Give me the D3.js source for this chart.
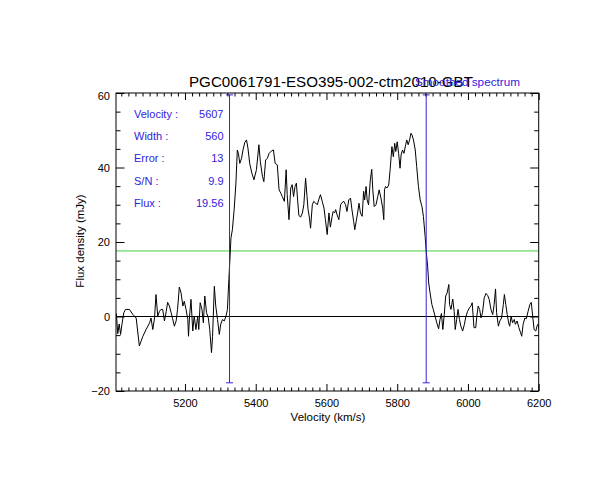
<!DOCTYPE html>
<html>
<head>
<meta charset="utf-8">
<script src="https://cdn.jsdelivr.net/npm/d3@7"></script>
<style>
  body { margin: 0; background: #fff; }
  text { font-family: "Liberation Sans", Arial, sans-serif; }
</style>
</head>
<body>
<script>
// Spectrum: velocity (km/s) and flux density (mJy).
var velocity = [
  5006, 5010, 5014, 5018, 5022, 5027, 5032, 5043, 5053, 5062, 5071, 5081, 5090, 5100,
  5104, 5109, 5114, 5118, 5123, 5128, 5132, 5137, 5142, 5147, 5151, 5156, 5161, 5165,
  5170, 5175, 5179, 5184, 5189, 5194, 5198, 5203, 5208, 5210, 5213, 5217, 5222, 5226,
  5231, 5236, 5239, 5243, 5248, 5252, 5256, 5261, 5266, 5270, 5275, 5278, 5283, 5287,
  5292, 5297, 5301, 5306, 5311, 5316, 5320, 5324, 5327, 5330, 5334, 5339, 5344, 5348,
  5351, 5355, 5360, 5364, 5369, 5374, 5378, 5383, 5389, 5395, 5402, 5409, 5413, 5419,
  5423, 5428, 5433, 5438, 5445, 5450, 5455, 5461, 5466, 5471, 5475, 5481, 5486, 5489,
  5494, 5499, 5503, 5507, 5511, 5515, 5518, 5522, 5527, 5532, 5536, 5541, 5545, 5548,
  5552, 5555, 5560, 5564, 5569, 5574, 5578, 5583, 5588, 5593, 5597, 5602, 5607, 5611,
  5616, 5619, 5623, 5626, 5630, 5635, 5640, 5644, 5649, 5654, 5658, 5663, 5668, 5672,
  5677, 5680, 5684, 5688, 5692, 5696, 5701, 5705, 5708, 5712, 5715, 5719, 5724, 5728,
  5731, 5735, 5740, 5745, 5749, 5754, 5759, 5762, 5764, 5767, 5771, 5776, 5780, 5785,
  5789, 5793, 5796, 5800, 5804, 5808, 5811, 5815, 5819, 5824, 5827, 5831, 5835, 5839,
  5842, 5846, 5851, 5855, 5860, 5865, 5870, 5874, 5879, 5882, 5886, 5889, 5893, 5898,
  5902, 5907, 5912, 5917, 5921, 5925, 5929, 5933, 5937, 5941, 5946, 5948, 5952, 5957,
  5961, 5964, 5968, 5972, 5976, 5980, 5985, 5990, 5994, 5999, 6004, 6009, 6012, 6017,
  6022, 6025, 6029, 6033, 6037, 6041, 6046, 6051, 6056, 6060, 6065, 6070, 6074, 6078,
  6081, 6086, 6090, 6095, 6100, 6103, 6107, 6111, 6115, 6118, 6122, 6126, 6131, 6134,
  6139, 6144, 6149, 6152, 6156, 6161, 6165, 6170, 6175, 6179, 6183, 6187, 6192, 6195,
  6198, 6201
];
var flux = [
   0.8, -4.6, -2.0, -4.8, -2.0,  1.0,  1.9,  1.9,  0.5, -0.4, -7.9, -5.3, -3.5, -1.7,
  -0.4, -3.5, -0.4,  5.9,  0.1,  1.4,  1.9,  1.9, -1.2,  1.4,  3.8,  2.8,  1.0, -0.6,
  -2.6, -1.2,  1.9,  7.9,  6.3,  2.8,  4.1,  1.9, -0.8, -5.3,  0.1,  4.6, -3.9,  0.1,
  -3.5,  0.1, -3.5,  3.7,  1.9, -1.7,  5.5,  1.0, -0.4, -3.5, -9.7, -5.3,  8.1,  2.8,
  -0.8, -4.8, -2.1, -0.8, -1.2,  0.1,  1.9,  9.9, 15.3, 21.1, 23.3, 28.7, 35.8, 44.7,
  43.8, 41.1, 42.5, 44.7, 46.7, 47.4, 45.2, 41.1, 38.5, 36.7, 39.4, 46.1, 41.6, 37.6,
  36.2, 42.0, 42.5, 43.8, 44.5, 44.7, 41.1, 40.7, 34.0, 33.1, 32.2, 30.9, 39.4, 32.7,
  26.0, 34.5, 35.4, 32.2, 34.9, 35.8, 31.8, 27.1, 26.7, 27.8, 30.0, 37.1, 32.2, 28.7,
  26.4, 23.7, 30.0, 30.9, 30.5, 30.0, 31.3, 32.7, 30.9, 29.1, 26.0, 22.0, 27.8, 24.0,
  26.9, 28.2, 27.8, 28.7, 27.3, 26.0, 30.0, 30.6, 30.9, 30.0, 28.2, 31.3, 31.8, 28.7,
  25.5, 23.3, 25.5, 27.8, 30.4, 27.8, 26.9, 33.6, 31.3, 34.9, 31.3, 30.0, 36.7, 39.5,
  34.0, 29.5, 30.0, 32.2, 34.0, 31.8, 29.1, 26.0, 34.0, 34.9, 34.5, 35.3, 39.4, 45.6,
  42.9, 46.5, 44.3, 46.9, 43.8, 39.8, 43.4, 44.7, 43.8, 46.1, 47.4, 46.1, 47.4, 49.2,
  48.7, 47.4, 44.7, 40.3, 34.9, 31.3, 29.5, 26.9, 21.5, 17.5, 13.5,  9.0,  6.3,  3.2,
   1.9,  0.1, -1.7, -3.3, -0.8,  0.8, -3.5,  0.5,  5.5,  6.3,  8.6,  3.2,  1.9,  4.7,
   1.4, -3.5, -0.8,  1.9, -0.8, -2.6, -3.9, -2.1, -0.1,  1.4,  2.3,  2.9,  3.7, -3.0,
  -3.0,  0.1,  2.8,  1.9, -0.4,  1.0,  5.0,  6.2,  5.6,  4.6,  1.9,  0.5,  3.2,  7.4,
   1.0, -2.6, -1.2, -0.4,  3.2,  5.9,  3.2,  0.5, -1.7, -2.6,  0.1, -1.7, -0.8, -2.1,
  -1.2, -3.0, -4.4, -5.3, -2.1, -0.4, -0.6,  1.4,  3.2,  3.8,  0.1, -3.5, -3.9, -2.6,
  -2.1, -3.5
];

var titleText = "PGC0061791-ESO395-002-ctm2010-GBT";
var xLabel = "Velocity (km/s)";
var yLabel = "Flux density (mJy)";

// Fit results shown at the top left.
var infoLabels = ["Velocity :", "Width :", "Error :", "S/N :", "Flux :"];
var infoValues = ["5607", "560", "13", "9.9", "19.56"];

// Line edges (vertical markers), the green level and the marker extent.
var edgeVelocities = [5326, 5882];
var markerTop = 59.5, markerBottom = -17.8;
var levelFlux = 17.6;

var xTicks = [5200, 5400, 5600, 5800, 6000, 6200];
var yTicks = [-20, 0, 20, 40, 60];
var xDomain = [5005, 6200];
var yDomain = [-20, 60];

var blue = "#3322dd";
var green = "#44d044";

var W = 612, H = 500;
var plotLeft = 116, plotRight = 538.7, plotTop = 93, plotBottom = 391;

var svg = d3.select("body").append("svg")
    .attr("width", W)
    .attr("height", H);

svg.append("rect").attr("width", W).attr("height", H).attr("fill", "#fff");

var x = d3.scaleLinear().domain(xDomain).range([plotLeft, plotRight]);
var y = d3.scaleLinear().domain(yDomain).range([plotBottom, plotTop]);

svg.append("clipPath").attr("id", "plot")
  .append("rect")
    .attr("x", plotLeft).attr("y", plotTop)
    .attr("width", plotRight - plotLeft).attr("height", plotBottom - plotTop);

var plot = svg.append("g").attr("clip-path", "url(#plot)");

// Zero line and the green level line.
plot.append("line")
    .attr("x1", plotLeft).attr("x2", plotRight)
    .attr("y1", y(0)).attr("y2", y(0))
    .attr("stroke", "#000").attr("stroke-width", 1);

plot.append("line")
    .attr("x1", plotLeft).attr("x2", plotRight)
    .attr("y1", y(levelFlux)).attr("y2", y(levelFlux))
    .attr("stroke", green).attr("stroke-width", 1);

// The spectrum.
var line = d3.line()
    .x(function(d, i) { return x(velocity[i]); })
    .y(function(d) { return y(d); });

plot.append("path")
    .datum(flux)
    .attr("d", line)
    .attr("fill", "none")
    .attr("stroke", "#000")
    .attr("stroke-width", 1);

// Vertical blue markers with small crosses at each end.
var markers = svg.append("g").attr("stroke", blue).attr("stroke-width", 1);
edgeVelocities.forEach(function(v) {
    var xv = x(v);
    markers.append("line")
        .attr("x1", xv).attr("x2", xv)
        .attr("y1", y(markerTop)).attr("y2", y(markerBottom));
    [markerTop, markerBottom].forEach(function(f) {
        markers.append("line")
            .attr("x1", xv - 3.5).attr("x2", xv + 3.5)
            .attr("y1", y(f)).attr("y2", y(f));
    });
});

// Axes: major ticks with labels, minor ticks without, all pointing inwards.
var xMinor = d3.range(5020, 6200, 20).filter(function(v) { return xTicks.indexOf(v) < 0; });
var yMinor = d3.range(-15, 60, 5).filter(function(v) { return yTicks.indexOf(v) < 0; });

function styleAxis(g) {
    g.select(".domain").remove();
    g.selectAll("line").attr("stroke", "#000").attr("stroke-width", 1);
    g.selectAll("text").attr("fill", "#000").style("font-size", "11px")
        .style("font-family", "'Liberation Sans', Arial, sans-serif");
}

svg.append("g").attr("transform", "translate(0," + plotBottom + ")")
    .call(d3.axisBottom(x).tickValues(xTicks).tickSize(-7).tickSizeOuter(0).tickPadding(8)
        .tickFormat(d3.format("d")))
    .call(styleAxis);
svg.append("g").attr("transform", "translate(0," + plotBottom + ")")
    .call(d3.axisBottom(x).tickValues(xMinor).tickSize(-3.5).tickSizeOuter(0).tickFormat(""))
    .call(styleAxis);
svg.append("g").attr("transform", "translate(0," + plotTop + ")")
    .call(d3.axisTop(x).tickValues(xTicks).tickSize(-7).tickSizeOuter(0).tickFormat(""))
    .call(styleAxis);
svg.append("g").attr("transform", "translate(0," + plotTop + ")")
    .call(d3.axisTop(x).tickValues(xMinor).tickSize(-3.5).tickSizeOuter(0).tickFormat(""))
    .call(styleAxis);

var yAxisG = svg.append("g").attr("transform", "translate(" + plotLeft + ",0)")
    .call(d3.axisLeft(y).tickValues(yTicks).tickSize(-8.5).tickSizeOuter(0).tickPadding(6)
        .tickFormat(function(d) { return d < 0 ? "\u2212" + Math.abs(d) : d; }))
    .call(styleAxis);
// The top label sits a little below its tick, as in the reference.
yAxisG.selectAll("text").attr("dy", function(d) { return d === 60 ? "0.55em" : "0.32em"; });
svg.append("g").attr("transform", "translate(" + plotLeft + ",0)")
    .call(d3.axisLeft(y).tickValues(yMinor).tickSize(-4.5).tickSizeOuter(0).tickFormat(""))
    .call(styleAxis);
svg.append("g").attr("transform", "translate(" + plotRight + ",0)")
    .call(d3.axisRight(y).tickValues(yTicks).tickSize(-8.5).tickSizeOuter(0).tickFormat(""))
    .call(styleAxis);
svg.append("g").attr("transform", "translate(" + plotRight + ",0)")
    .call(d3.axisRight(y).tickValues(yMinor).tickSize(-4.5).tickSizeOuter(0).tickFormat(""))
    .call(styleAxis);

// Frame.
svg.append("rect")
    .attr("x", plotLeft).attr("y", plotTop)
    .attr("width", plotRight - plotLeft).attr("height", plotBottom - plotTop)
    .attr("fill", "none").attr("stroke", "#000").attr("stroke-width", 1);

// Title and overlapping blue caption.
svg.append("text")
    .attr("x", 189).attr("y", 87)
    .attr("textLength", 284).attr("lengthAdjust", "spacingAndGlyphs")
    .style("font-size", "14px")
    .text(titleText);

svg.append("text")
    .attr("x", 415).attr("y", 86)
    .attr("textLength", 105).attr("lengthAdjust", "spacingAndGlyphs")
    .attr("fill", blue)
    .style("font-size", "11.5px")
    .text("Smoothed spectrum");

// Axis titles.
svg.append("text")
    .attr("x", 328).attr("y", 421)
    .attr("text-anchor", "middle")
    .style("font-size", "11.5px")
    .text(xLabel);

svg.append("text")
    .attr("transform", "translate(84,241) rotate(-90)")
    .attr("text-anchor", "middle")
    .style("font-size", "11.5px")
    .text(yLabel);

// Fit results.
var info = svg.append("g").attr("fill", blue).style("font-size", "11px");
info.selectAll("text.lab")
    .data(infoLabels)
    .join("text")
    .attr("class", "lab")
    .attr("x", 134)
    .attr("y", function(d, i) { return 118 + i * 22.2; })
    .text(function(d) { return d; });
info.selectAll("text.val")
    .data(infoValues)
    .join("text")
    .attr("class", "val")
    .attr("x", 223.5)
    .attr("text-anchor", "end")
    .attr("y", function(d, i) { return 118 + i * 22.2; })
    .text(function(d) { return d; });
</script>
</body>
</html>
